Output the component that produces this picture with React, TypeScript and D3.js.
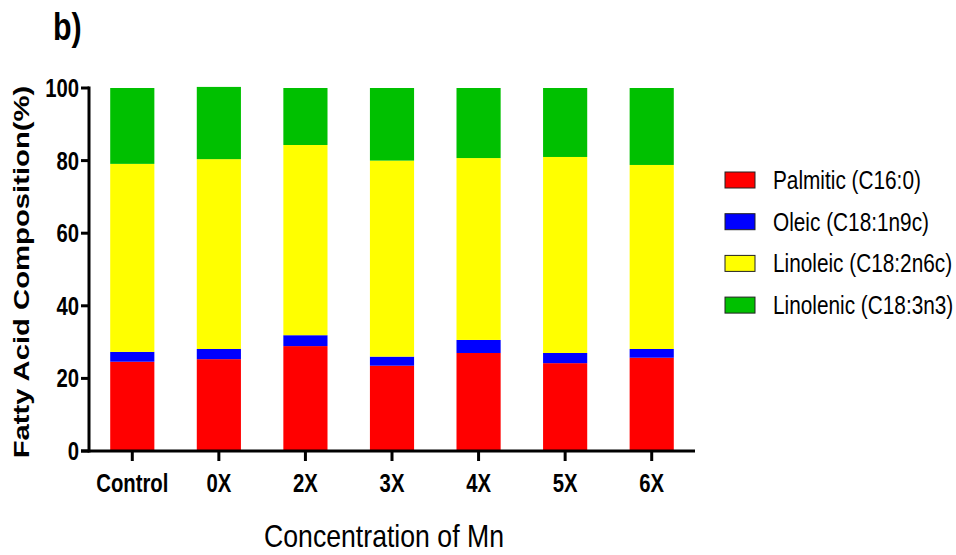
import React from "react";
import * as d3 from "d3";

const categories = ["Control", "0X", "2X", "3X", "4X", "5X", "6X"];
const seriesNames = ["Palmitic (C16:0)", "Oleic (C18:1n9c)", "Linoleic (C18:2n6c)", "Linolenic (C18:3n3)"];
const palmitic = [24.6, 25.3, 28.9, 23.5, 27.0, 24.2, 25.7];
const oleic = [2.7, 2.8, 3.0, 2.5, 3.6, 2.8, 2.4];
const linoleic = [51.8, 52.3, 52.4, 54.0, 50.1, 54.0, 50.7];
const linolenic = [20.9, 19.9, 15.7, 20.0, 19.3, 19.0, 21.2];
const yTicks = [0, 20, 40, 60, 80, 100];
const colors = ["#ff0000", "#0000ff", "#ffff00", "#00c000"];

const W = 956, H = 555;
const left = 89, right = 695, top = 88, bottom = 451;
const SANS = "'Liberation Sans', Arial, sans-serif";

function NText(props: { x: number; y: number; s: number; size: number; bold?: boolean; anchor?: string; dy?: string; children: any }) {
  return (
    <text
      transform={`translate(${props.x},${props.y}) scale(${props.s},1)`}
      textAnchor={props.anchor || "start"}
      dy={props.dy}
      fontFamily={SANS}
      fontWeight={props.bold ? "bold" : "normal"}
      fontSize={props.size}
      fill="#000"
    >
      {props.children}
    </text>
  );
}

export default function App() {
  const keys = ["p", "o", "l", "n"];
  const rows = categories.map((c, i) => ({ cat: c, p: palmitic[i], o: oleic[i], l: linoleic[i], n: linolenic[i] }));
  const stacked = d3.stack<any>().keys(keys)(rows);
  const x = d3.scaleBand().domain(categories).range([left, right]).paddingInner(0.49).paddingOuter(0.245);
  const y = d3.scaleLinear().domain([0, 100]).range([bottom, top]);

  return (
    <svg width={W} height={H} style={{ position: "absolute", left: 0, top: 0, background: "#fff" }}>
      <NText x={53} y={40} s={0.8} size={38} bold>b)</NText>
      {stacked.map((s, si) => (
        <g key={si} fill={colors[si]}>
          {s.map((d: any, i: number) => (
            <rect key={i} x={x(categories[i])} width={x.bandwidth()} y={y(d[1])} height={y(d[0]) - y(d[1])} />
          ))}
        </g>
      ))}
      {/* y axis */}
      <line x1={left} x2={left} y1={y(100) - 1.5} y2={bottom + 1.5} stroke="#000" strokeWidth={3} />
      {yTicks.map((t) => (
        <g key={t}>
          <line x1={left - 8} x2={left} y1={y(t)} y2={y(t)} stroke="#000" strokeWidth={3} />
          <NText x={left - 10} y={y(t) + 9} s={0.78} size={26} bold anchor="end">{t}</NText>
        </g>
      ))}
      {/* x axis */}
      <line x1={left - 8} x2={right} y1={bottom} y2={bottom} stroke="#000" strokeWidth={3} />
      {categories.map((c) => (
        <g key={c}>
          <line x1={x(c)! + x.bandwidth() / 2} x2={x(c)! + x.bandwidth() / 2} y1={bottom} y2={bottom + 10} stroke="#000" strokeWidth={3} />
          <NText x={x(c)! + x.bandwidth() / 2} y={492} s={0.78} size={26} bold anchor="middle">{c}</NText>
        </g>
      ))}
      <text transform={`translate(29,272) rotate(-90) scale(1.33,1)`} textAnchor="middle" fontFamily={SANS} fontWeight="bold" fontSize={22}>Fatty Acid Composition(%)</text>
      <NText x={384} y={547} s={0.86} size={31} anchor="middle">Concentration of Mn</NText>
      {seriesNames.map((n, i) => (
        <g key={n}>
          <rect x={725} y={172 + i * 41.7} width={30} height={16} fill={colors[i]} stroke="#222" strokeWidth={1} />
          <NText x={773} y={189 + i * 41.7} s={0.8} size={26}>{n}</NText>
        </g>
      ))}
    </svg>
  );
}
